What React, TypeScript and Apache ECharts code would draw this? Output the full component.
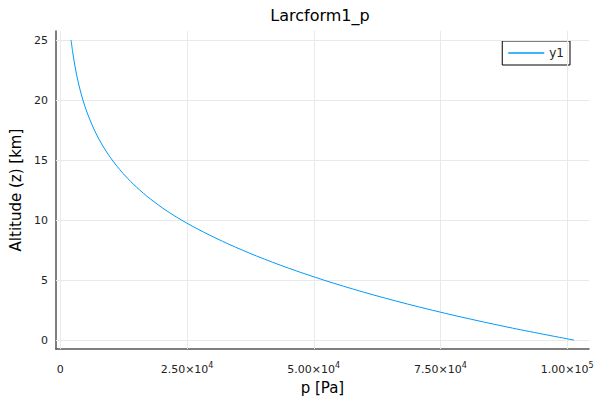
import React, { useEffect, useRef } from "react";
import * as echarts from "echarts";

const chartTitle = "Larcform1_p";
const seriesName = "y1";
const altitudeKm = [0, 1, 2, 3, 4, 5, 6, 7, 8, 9, 10, 11, 12, 13, 14, 15, 16, 17, 18, 19, 20, 21, 22, 23, 24, 25];
const pressurePa = [
  101325, 89170, 78280, 68530, 59790, 51970, 44990, 38740, 33190, 28250, 23900, 20190, 17050,
  14390, 12140, 10240, 8640, 7300, 6190, 5250, 4460, 3810, 3270, 2820, 2440, 2120,
];
const xTicks = [0, 25000, 50000, 75000, 100000];
const yTicks = [0, 5, 10, 15, 20, 25];

const FONT = "DejaVu Sans";

function sciLabel(v: number): string {
  if (v === 0) return "{m|0}";
  const e = Math.floor(Math.log10(Math.abs(v)));
  const m = (v / Math.pow(10, e)).toFixed(2);
  return `{m|${m}×10}{e|${e}}`;
}

export default function App() {
  const ref = useRef<HTMLDivElement>(null);
  useEffect(() => {
    document.body.style.margin = "0";
    const chart = echarts.init(ref.current!, null, { renderer: "svg" });
    const data = pressurePa.map((p, i) => [p, altitudeKm[i]]);
    const gridColor = "#e9e9e9";
    const axisColor = "#555";
    chart.setOption({
      animation: false,
      backgroundColor: "#fff",
      textStyle: { fontFamily: FONT },
      grid: { left: 51, right: 11, top: 31, bottom: 48, containLabel: false },
      graphic: [
        {
          type: "text",
          x: 320,
          y: 15,
          style: {
            text: chartTitle,
            font: `16px '${FONT}'`,
            fill: "#000",
            textAlign: "center",
            textVerticalAlign: "middle",
          },
        },
      ],
      legend: {
        data: [seriesName],
        right: 30,
        top: 41,
        orient: "vertical",
        borderColor: "#000",
        borderWidth: 1,
        borderRadius: 0,
        padding: [6, 6, 6, 6],
        itemWidth: 36,
        itemHeight: 1.5,
        itemGap: 4,
        icon: "rect",
        textStyle: { fontSize: 12, color: "#222", fontFamily: FONT },
      },
      xAxis: {
        type: "value",
        min: -870,
        max: 104300,
        name: "p [Pa]",
        nameLocation: "middle",
        nameGap: 24,
        nameTextStyle: { fontSize: 15, color: "#000", fontFamily: FONT },
        axisLine: { show: true, onZero: false, lineStyle: { color: axisColor, width: 1.5 } },
        axisTick: { show: true, inside: true, length: 4, customValues: xTicks, lineStyle: { color: "#222", width: 1 } },
        axisLabel: {
          customValues: xTicks,
          margin: 12,
          color: "#222",
          formatter: (v: number) => sciLabel(v),
          rich: {
            m: { fontSize: 11, fontFamily: FONT, color: "#222", lineHeight: 14, verticalAlign: "bottom" },
            e: { fontSize: 8, fontFamily: FONT, color: "#222", lineHeight: 8, verticalAlign: "top" },
          },
        },
        splitLine: { show: false },
      },
      yAxis: {
        type: "value",
        min: -0.75,
        max: 25.75,
        name: "Altitude (z) [km]",
        nameLocation: "middle",
        nameGap: 32,
        nameTextStyle: { fontSize: 15, color: "#000", fontFamily: FONT },
        axisLine: { show: true, onZero: false, lineStyle: { color: axisColor, width: 1.5 } },
        axisTick: { show: true, inside: true, length: 4, customValues: yTicks, lineStyle: { color: "#222", width: 1 } },
        axisLabel: { customValues: yTicks, margin: 8, fontSize: 11, color: "#222", fontFamily: FONT },
        splitLine: { show: false },
      },
      series: [
        {
          name: "grid",
          type: "line",
          data: [],
          z: 1,
          silent: true,
          markLine: {
            silent: true,
            symbol: "none",
            animation: false,
            label: { show: false },
            lineStyle: { color: gridColor, width: 1, type: "solid" },
            data: [
              ...xTicks.map((v) => ({ xAxis: v })),
              ...yTicks.map((v) => ({ yAxis: v })),
            ],
          },
        },
        {
          name: seriesName,
          type: "line",
          data,
          z: 3,
          zlevel: 1,
          smooth: 0.3,
          showSymbol: false,
          symbol: "none",
          lineStyle: { color: "#009AFA", width: 1 },
          itemStyle: { color: "#009AFA" },
        },
      ],
    });
    return () => chart.dispose();
  }, []);
  return <div ref={ref} style={{ width: 600, height: 400 }} />;
}
